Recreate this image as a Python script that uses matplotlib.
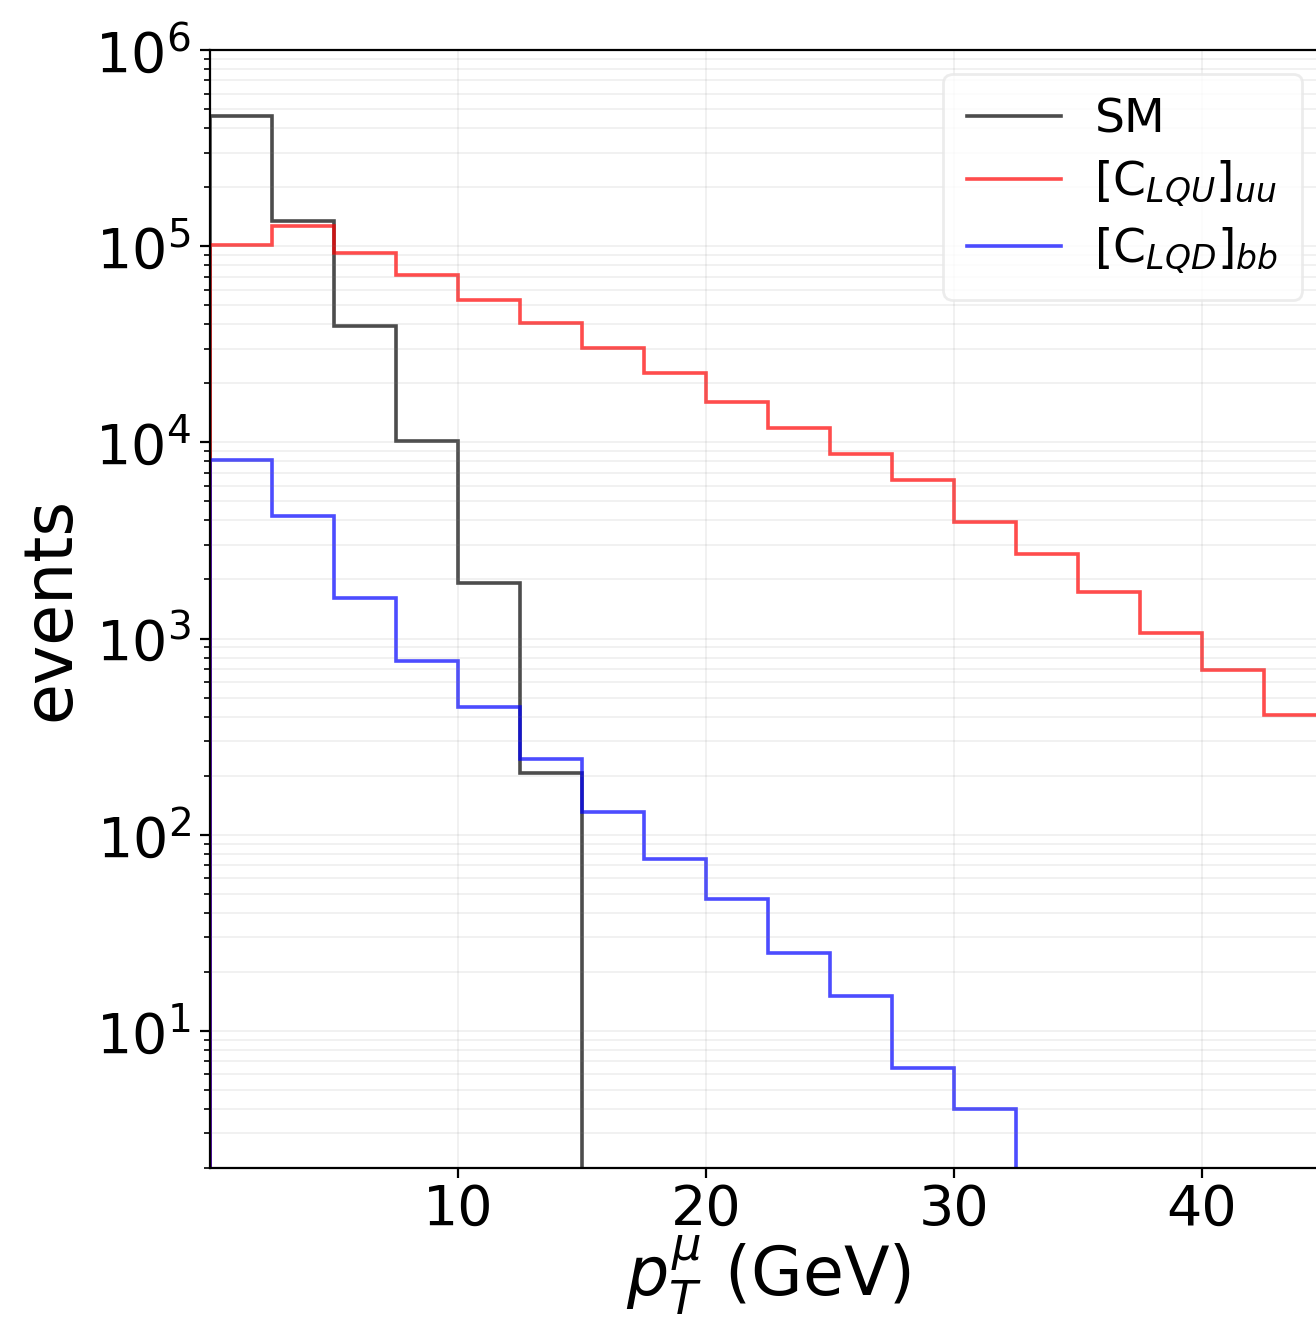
import numpy as np
import matplotlib.pyplot as plt

# bin edges (GeV)
edges = np.arange(0, 45.1, 2.5)

# events per bin
sm = [4.6e5, 1.34e5, 3.9e4, 1.01e4, 1.92e3, 2.06e2,
      0, 0, 0, 0, 0, 0, 0, 0, 0, 0, 0, 0]
c_lqu_uu = [1.02e5, 1.26e5, 9.2e4, 7.1e4, 5.3e4, 4.07e4, 3.03e4, 2.26e4, 1.61e4,
            1.18e4, 8.7e3, 6.4e3, 3.93e3, 2.7e3, 1.73e3, 1.07e3, 6.9e2, 4.06e2]
c_lqd_bb = [8.1e3, 4.2e3, 1.61e3, 7.7e2, 4.46e2, 2.43e2, 1.31e2, 75.5, 46.8,
            24.9, 15.1, 6.5, 4.0, 0, 0, 0, 0, 0]

labels = ['SM', r'[C$_{LQU}$]$_{uu}$', r'[C$_{LQD}$]$_{bb}$']
colors = ['k', 'r', 'b']

fig = plt.figure(figsize=(6.58, 6.6), dpi=200)
ax = fig.add_axes([0.1596, 0.1152, 0.848, 0.8469])

for vals, lab, c in zip([sm, c_lqu_uu, c_lqd_bb], labels, colors):
    ax.stairs(vals, edges, color=c, alpha=0.7, linewidth=1.3, label=lab)

ax.set_yscale('log')
ax.set_xlim(0, 45)
ax.set_ylim(2, 1e6)
ax.set_xticks([10, 20, 30, 40])
ax.grid(which='both', color='gray', alpha=0.13, linewidth=0.6)
ax.tick_params(labelsize=20)
ax.tick_params(axis='x', pad=2)
ax.set_xlabel(r'$p_T^\mu$ (GeV)', fontsize=24, labelpad=-1)
ax.set_ylabel('events', fontsize=24)
leg = ax.legend(loc='upper right', fontsize=17, handlelength=2.0, labelspacing=0.35,
                borderpad=0.5, handletextpad=0.7)
leg.get_frame().set_edgecolor('#e8e8e8')

fig.savefig('out.png', dpi=200)
